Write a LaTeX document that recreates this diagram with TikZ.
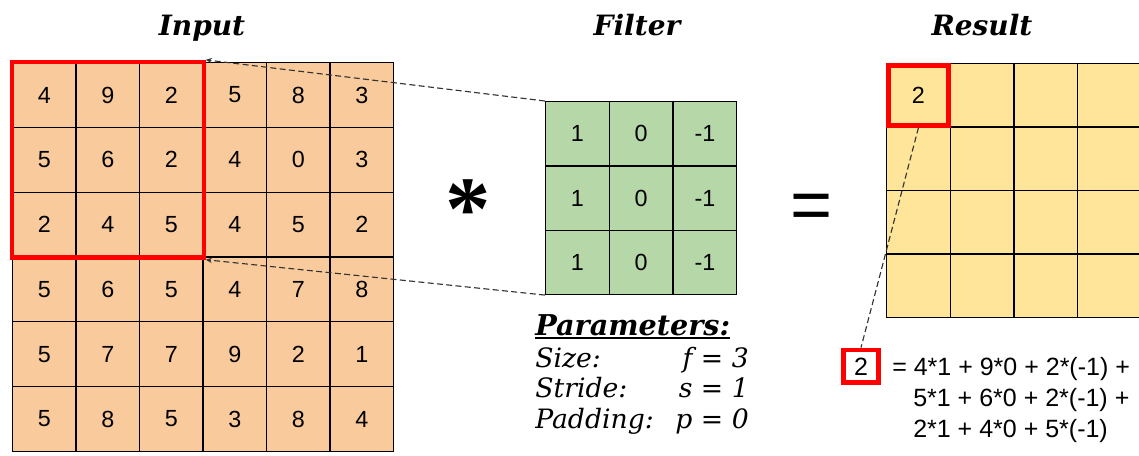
\documentclass[tikz,border=0pt]{standalone}
\usepackage{fontspec}
\setmainfont{Liberation Sans}
\newfontfamily\dvs{DejaVu Serif}
\newfontfamily\lserif{Liberation Serif}
\usetikzlibrary{fit,arrows.meta,calc}
\definecolor{inorange}{HTML}{F9CB9C}
\definecolor{fgreen}{HTML}{B6D7A8}
\definecolor{ryellow}{HTML}{FFE599}
\definecolor{winred}{HTML}{FF0000}
\begin{document}
\begin{tikzpicture}[x=0.75pt,y=-0.75pt,
  gcell/.style={draw=black, line width=0.9pt, inner sep=0pt, anchor=north west, font=\fontsize{17.5}{20}\selectfont},
  incell/.style={gcell, fill=inorange, minimum width=47.6pt, minimum height=48.6pt},
  fcell/.style={gcell, fill=fgreen, minimum width=47.8pt, minimum height=48.2pt},
  rcell/.style={gcell, fill=ryellow, minimum width=47.8pt, minimum height=47.6pt},
  redbox/.style={draw=winred, line width=3.2pt, inner sep=0pt},
  conn/.style={draw=black!80, line width=0.85pt, dash pattern=on 4.5pt off 2.5pt},
  connarrow/.style={conn, -{Stealth[length=4.5pt,width=4pt]}},
  title/.style={anchor=base, inner sep=0pt, font=\dvs\bfseries\itshape\fontsize{21}{25}\selectfont},
  param/.style={inner sep=0pt, font=\dvs\itshape\fontsize{20}{24}\selectfont},
  formula/.style={inner sep=0pt, anchor=base west, font=\fontsize{18.75}{22}\selectfont}
]
\useasboundingbox (0,0) rectangle (1139,455);

% titles
\node[title] (tin) at (202,35) {Input};
\node[title] (tfi) at (637,35) {Filter};
\node[title] (tre) at (982,35) {Result};

% input grid
\foreach \row [count=\r] in {{4,9,2,5,8,3},{5,6,2,4,0,3},{2,4,5,4,5,2},{5,6,5,4,7,8},{5,7,7,9,2,1},{5,8,5,3,8,4}}
  \foreach \v [count=\c] in \row
    \node[incell] (in-\r-\c) at ({12+(\c-1)*63.5},{62+(\r-1)*64.8}) {\v};

% filter grid
\foreach \row [count=\r] in {{1,0,-1},{1,0,-1},{1,0,-1}}
  \foreach \v [count=\c] in \row
    \node[fcell] (f-\r-\c) at ({545+(\c-1)*63.7},{101+(\r-1)*64.3}) {\v};

% result grid
\foreach \r in {1,...,4}
  \foreach \c in {1,...,4}
    \node[rcell] (res-\r-\c) at ({886+(\c-1)*63.7},{63+(\r-1)*63.5}) {\ifnum\r\c=11 2\fi};

% red windows
\node[redbox, fit=(in-1-1)(in-3-3)] (inwin) {};
\node[redbox, line width=3.5pt, inner sep=-1.8pt, fit=(res-1-1)] (reswin) {};

% operators
\node[inner sep=0pt] (ast) at (468,210) {\lserif\bfseries\fontsize{68}{68}\selectfont *};
\node[inner sep=0pt] (eq) at (812,212) {\fontsize{54}{54}\selectfont =};

% connectors
\draw[connarrow] (f-1-1.north west) -- (inwin.north east);
\draw[connarrow] (f-3-1.south west) -- (inwin.south east);

% parameters
\node[param, anchor=base west, font=\dvs\bfseries\itshape\fontsize{21.5}{25}\selectfont] (ptitle) at (535,335) {Parameters:};
\draw[line width=1.3pt] ([yshift=-2.4pt]ptitle.base west) -- ([yshift=-2.4pt]ptitle.base east);
\node[param, anchor=base west] (psize) at (535,367) {Size:};
\node[param, anchor=base west] (pstride) at (535,397) {Stride:};
\node[param, anchor=base west] (ppad) at (535,428) {Padding:};
\node[param, anchor=base east] (vsize) at (749,367) {f = 3};
\node[param, anchor=base east] (vstride) at (749,397) {s = 1};
\node[param, anchor=base east] (vpad) at (749,428) {p = 0};

% formula
\node[draw=winred, line width=3.5pt, inner sep=0pt, minimum width=26pt, minimum height=24.5pt, anchor=base, font=\fontsize{18.75}{22}\selectfont] (sbox) at (861,375) {2};
\node[formula] (f1) at (892,375) {= 4*1 + 9*0 + 2*(-1) +};
\node[formula] (f2) at (913,406) {5*1 + 6*0 + 2*(-1) +};
\node[formula] (f3) at (913,437) {2*1 + 4*0 + 5*(-1)};

\draw[conn] (reswin.south) -- (sbox.north);
\end{tikzpicture}
\end{document}
